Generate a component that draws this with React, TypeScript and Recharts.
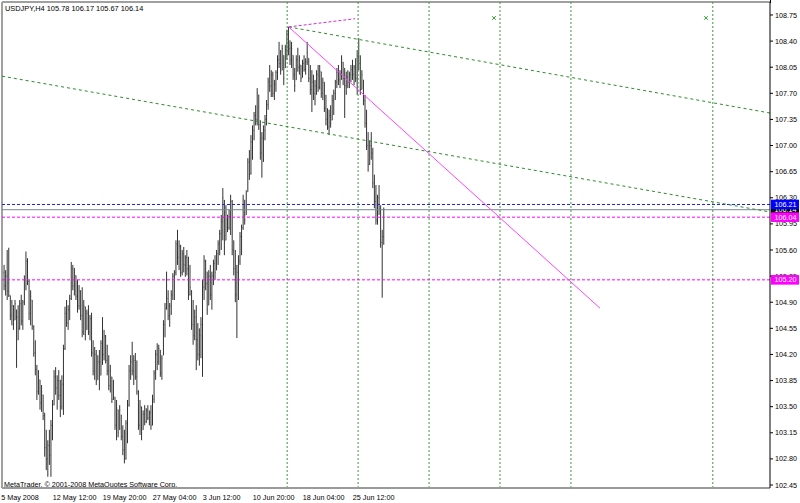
import React from 'react';
import { ComposedChart, Bar, XAxis, YAxis, ReferenceLine, ReferenceDot, Customized } from 'recharts';

const FONT = "'Liberation Sans', Arial, sans-serif";

const highs = [
  105.36,105.40,105.33,105.60,105.63,104.99,104.93,104.86,104.93,104.80,
  104.86,104.93,105.00,104.93,105.26,105.58,105.49,105.20,105.06,104.93,
  104.59,104.39,104.06,103.99,103.86,103.79,103.66,103.42,103.19,103.05,
  103.19,103.32,103.59,103.99,104.03,103.92,103.99,103.86,103.92,104.33,
  104.84,104.93,104.86,105.00,105.44,105.40,105.36,105.26,105.20,105.13,
  105.06,105.10,104.93,104.84,104.80,104.86,104.73,104.76,104.39,104.30,
  104.26,104.19,104.26,104.39,104.70,104.53,104.46,104.33,104.19,104.06,
  103.90,103.86,103.63,103.59,103.46,103.52,103.39,103.25,103.19,103.32,
  103.59,104.06,104.19,104.37,104.19,104.22,104.12,103.72,103.59,103.50,
  103.45,103.52,103.48,103.52,103.45,103.52,103.66,103.99,104.26,104.35,
  104.33,104.26,104.19,104.66,104.89,105.31,105.06,104.89,105.06,105.29,
  105.33,105.73,105.87,105.73,105.67,105.60,105.64,105.53,105.60,105.51,
  105.40,105.06,104.93,104.80,104.86,104.62,104.55,104.70,105.20,105.53,
  105.47,105.31,105.33,105.40,105.31,105.47,105.53,105.60,105.73,105.87,
  106.07,106.43,106.27,106.20,106.07,106.14,106.34,106.27,105.73,105.60,
  105.40,105.53,105.84,105.94,106.34,106.27,106.40,106.83,106.94,107.14,
  107.27,107.45,107.54,107.77,107.68,107.34,107.18,107.27,107.41,107.61,
  107.91,108.08,108.01,107.99,107.88,108.01,108.21,108.39,108.28,108.35,
  108.21,108.35,108.55,108.59,108.41,108.39,108.21,108.04,108.21,108.31,
  108.21,108.08,108.15,108.21,108.17,108.39,108.17,108.08,108.01,107.95,
  107.88,108.01,108.08,108.08,107.99,107.91,107.85,107.68,107.50,107.48,
  107.54,107.68,107.75,107.88,108.04,108.08,108.01,108.21,108.12,108.04,
  107.99,108.01,107.99,108.08,108.15,108.08,108.17,108.28,108.44,108.21,
  108.01,107.88,107.68,107.48,107.18,107.07,107.18,106.97,106.61,106.47,
  106.34,106.47,106.20,105.87,106.17,
];

const lows = [
  105.13,105.06,104.99,104.93,104.97,104.66,104.59,104.53,104.66,104.02,
  104.39,104.53,104.59,104.53,104.86,105.06,105.13,104.66,104.59,104.53,
  104.17,103.92,103.59,103.66,103.46,103.43,103.32,102.83,102.65,102.56,
  102.72,102.56,103.05,103.52,103.66,103.46,103.59,103.36,103.46,103.39,
  104.26,104.57,104.53,104.66,104.93,105.06,104.99,104.93,104.76,104.80,
  104.66,104.43,104.46,104.39,104.53,104.46,104.39,104.17,103.92,103.86,
  103.79,103.86,103.72,103.92,104.06,104.12,104.08,103.92,103.72,103.69,
  103.55,103.59,103.19,103.05,103.09,103.19,103.05,102.85,102.74,102.79,
  103.01,103.50,103.86,103.92,103.79,103.86,103.66,103.19,103.12,103.05,
  103.19,103.25,103.28,103.32,103.25,103.19,103.25,103.55,103.86,103.99,
  104.06,103.90,103.86,104.19,104.43,104.80,104.66,104.57,104.73,104.93,
  104.93,105.26,105.40,105.33,105.24,105.26,105.30,105.24,105.26,104.93,
  104.99,104.53,104.33,104.39,103.99,104.12,104.05,104.15,103.90,104.93,
  105.06,104.73,104.86,104.93,104.80,105.13,105.20,105.33,105.40,105.53,
  105.60,105.73,105.53,105.73,105.84,105.87,105.80,105.53,105.26,104.90,
  104.42,104.93,105.40,105.53,105.87,105.94,106.07,106.38,106.54,106.61,
  106.81,107.07,107.27,107.27,107.21,106.81,106.57,106.78,107.07,107.27,
  107.48,107.72,107.65,107.65,107.61,107.72,107.88,108.04,107.95,108.01,
  107.81,108.04,108.15,108.21,108.08,108.04,107.88,107.72,107.88,107.99,
  107.95,107.85,107.91,107.99,107.95,108.08,107.85,107.68,107.45,107.61,
  107.54,107.68,107.72,107.75,107.64,107.61,107.45,107.27,107.21,107.14,
  107.24,107.34,107.41,107.61,107.77,107.81,107.77,107.88,107.81,107.37,
  107.68,107.77,107.77,107.85,107.88,107.81,107.85,107.68,108.01,107.68,
  107.75,107.54,107.24,106.94,106.65,106.74,106.81,106.43,106.16,105.94,
  105.94,106.07,105.63,104.96,105.67,
];

const opens = [
  105.20,105.30,105.12,105.25,105.05,104.99,104.72,104.85,104.66,104.80,
  104.70,104.55,104.88,104.65,104.90,105.20,105.45,105.18,104.75,104.93,
  104.58,104.22,104.00,103.70,103.86,103.55,103.66,103.38,102.95,102.80,
  102.98,102.85,103.25,103.52,103.90,103.75,103.85,103.65,103.50,103.80,
  104.28,104.75,104.62,104.80,104.95,105.35,105.12,105.26,104.98,104.85,
  105.05,104.72,104.50,104.84,104.53,104.75,104.50,104.68,104.22,103.98,
  104.20,103.86,104.10,103.92,104.35,104.20,104.45,104.12,103.98,103.78,
  103.90,103.60,103.63,103.25,103.46,103.19,103.39,103.10,102.92,102.80,
  103.28,103.52,103.98,104.10,103.98,104.12,103.90,103.70,103.25,103.50,
  103.19,103.40,103.30,103.45,103.35,103.42,103.25,103.60,103.95,104.20,
  104.10,104.26,103.95,104.19,104.60,104.82,104.95,104.72,104.85,105.00,
  105.25,105.30,105.68,105.50,105.65,105.30,105.55,105.40,105.50,105.35,
  105.00,105.06,104.60,104.45,104.70,104.40,104.20,104.45,104.60,105.10,
  105.45,105.15,104.86,105.25,105.00,105.25,105.42,105.33,105.55,105.68,
  105.82,105.98,106.27,105.73,106.07,105.90,106.05,106.25,105.60,105.35,
  105.00,105.30,105.45,105.78,105.90,106.27,106.07,106.38,106.78,106.62,
  107.05,107.20,107.40,107.35,107.68,107.28,106.90,107.10,107.20,107.35,
  107.55,107.85,107.80,107.95,107.70,107.82,107.98,108.15,108.10,108.01,
  108.21,108.04,108.28,108.50,108.30,108.15,108.21,107.95,107.88,108.15,
  108.05,108.08,107.91,108.10,108.02,108.12,108.17,107.90,107.75,107.85,
  107.70,107.80,107.95,107.78,107.99,107.70,107.85,107.50,107.35,107.25,
  107.40,107.34,107.60,107.70,107.85,107.98,107.88,107.95,108.12,107.90,
  107.80,107.92,107.85,107.95,108.02,107.95,108.05,107.90,108.20,108.10,
  107.75,107.88,107.60,107.30,107.00,106.75,107.00,106.90,106.50,106.25,
  106.00,106.30,106.15,105.70,105.78,
];

const closes = [
  105.30,105.12,105.25,105.05,105.00,104.72,104.85,104.60,104.88,104.70,
  104.55,104.88,104.65,104.90,105.20,105.45,105.18,104.75,104.98,104.58,
  104.22,104.00,103.70,103.90,103.55,103.70,103.38,102.95,102.80,102.98,
  102.85,103.25,103.52,103.90,103.75,103.85,103.65,103.50,103.80,104.28,
  104.75,104.62,104.80,104.95,105.35,105.12,105.30,104.98,104.85,105.05,
  104.72,104.50,104.85,104.45,104.75,104.50,104.68,104.22,103.98,104.20,
  103.85,104.10,103.80,104.35,104.20,104.45,104.12,103.98,103.78,103.98,
  103.60,103.80,103.25,103.48,103.15,103.45,103.10,102.92,102.80,103.28,
  103.52,103.98,104.10,103.98,104.12,103.90,103.70,103.25,103.50,103.15,
  103.40,103.30,103.45,103.35,103.42,103.25,103.60,103.95,104.20,104.10,
  104.28,103.95,104.15,104.60,104.82,104.95,104.72,104.85,105.00,105.25,
  105.30,105.68,105.50,105.65,105.30,105.55,105.40,105.50,105.35,105.00,
  105.10,104.60,104.45,104.70,104.40,104.20,104.45,104.60,105.10,105.45,
  105.15,104.80,105.25,105.00,105.25,105.42,105.30,105.55,105.68,105.82,
  105.98,106.30,105.70,106.10,105.90,106.05,106.25,105.60,105.35,105.00,
  105.30,105.45,105.78,105.90,106.28,106.00,106.35,106.78,106.62,107.05,
  107.20,107.40,107.35,107.70,107.28,106.90,107.10,107.20,107.35,107.55,
  107.85,107.80,107.95,107.70,107.82,107.98,108.15,108.10,108.00,108.30,
  107.90,108.28,108.50,108.30,108.15,108.30,107.95,107.80,108.15,108.05,
  108.18,107.90,108.10,108.02,108.12,108.25,107.90,107.75,107.85,107.70,
  107.80,107.95,107.78,108.00,107.70,107.85,107.50,107.35,107.25,107.40,
  107.30,107.60,107.70,107.85,107.98,107.88,107.95,108.15,107.90,107.80,
  107.92,107.85,107.95,108.02,107.95,108.05,107.90,108.20,108.10,107.75,
  107.95,107.60,107.30,107.00,106.75,107.00,106.90,106.50,106.25,106.00,
  106.30,106.15,105.70,105.78,106.14,
];

const dateTickIdx = [0, 33, 65, 97, 129, 161, 193, 225];
const dateTickLabels = ['5 May 2008', '12 May 12:00', '19 May 20:00', '27 May 04:00', '3 Jun 12:00', '10 Jun 20:00', '18 Jun 04:00', '25 Jun 12:00'];
const priceTicks = [102.45, 102.80, 103.15, 103.50, 103.85, 104.20, 104.55, 104.90, 105.25, 105.60, 105.95, 106.30, 106.65, 107.00, 107.35, 107.70, 108.05, 108.40, 108.75];
const tagValues = [105.20, 106.14, 106.21, 106.04];
const tagColors = ['#ff00ff', '#000000', '#0000ff', '#ff00ff'];
const cycleLines = [182, 227.4, 272.8, 318.2, 363.6, 454.4];
const crossMarks = [314.4, 450.0];
const crossPrice = 108.71;

const symbolTitle = 'USDJPY,H4  105.78 106.17 105.67 106.14';
const copyright = 'MetaTrader, \u00a9 2001-2008 MetaQuotes Software Corp.';

const X_DOMAIN: [number, number] = [-0.5, 491];
const Y_DOMAIN: [number, number] = [102.41, 108.924];

const data = highs.map((h, i) => ({
  i,
  high: h,
  low: lows[i],
  open: opens[i],
  close: closes[i],
  range: [lows[i], h],
}));

function OhlcShape(props: any) {
  const { x, y, width, height, payload } = props;
  if (x == null || y == null || !payload) return <g />;
  const cx = x + (width || 0) / 2;
  const top = Math.min(y, y + height);
  const h = Math.abs(height);
  const span = payload.high - payload.low || 1;
  const yO = top + ((payload.high - payload.open) / span) * h;
  const yC = top + ((payload.high - payload.close) / span) * h;
  const col = '#333';
  return (
    <g>
      <line x1={cx} x2={cx} y1={top} y2={top + Math.max(h, 1)} stroke={col} strokeWidth={1} />
      <line x1={cx - 0.6} x2={cx} y1={yO} y2={yO} stroke={col} strokeWidth={0.6} />
      <line x1={cx} x2={cx + 0.6} y1={yC} y2={yC} stroke={col} strokeWidth={0.6} />
    </g>
  );
}

function PriceTick(props: any) {
  const { y, payload } = props;
  return (
    <g>
      <line x1={770} x2={773} y1={y} y2={y} stroke="#000" strokeWidth={1} />
      <text x={775} y={y} dy="0.35em" fontSize={7.2} fontFamily={FONT} fill="#000">
        {Number(payload.value).toFixed(2)}
      </text>
    </g>
  );
}

function TagTick(props: any) {
  const { y, payload } = props;
  const k = tagValues.indexOf(payload.value);
  const bg = k >= 0 ? tagColors[k] : '#000';
  return (
    <g>
      <rect x={771} y={y - 4.8} width={28} height={9.6} fill={bg} />
      <text x={774.5} y={y} dy="0.35em" fontSize={7.2} fontFamily={FONT} fill="#fff">
        {Number(payload.value).toFixed(2)}
      </text>
    </g>
  );
}

function DateTick(props: any) {
  const { x, payload } = props;
  const k = dateTickIdx.indexOf(payload.value);
  return (
    <text x={x - 1.5} y={499.5} fontSize={7.2} fontFamily={FONT} fill="#000">
      {k >= 0 ? dateTickLabels[k] : ''}
    </text>
  );
}

function Cross(props: any) {
  const { cx, cy } = props;
  if (cx == null) return <g />;
  return (
    <g stroke="#33a033" strokeWidth={1}>
      <line x1={cx - 1.8} x2={cx + 1.8} y1={cy - 1.8} y2={cy + 1.8} />
      <line x1={cx - 1.8} x2={cx + 1.8} y1={cy + 1.8} y2={cy - 1.8} />
    </g>
  );
}

function Overlay() {
  return (
    <g>
      <text x={5} y={10.5} fontSize={7.4} fontFamily={FONT} fill="#000">{symbolTitle}</text>
      <text x={4} y={486.5} fontSize={7.2} fontFamily={FONT} fill="#000">{copyright}</text>
      <line x1={770.5} x2={770.5} y1={0} y2={3} stroke="#000" strokeWidth={1} />
    </g>
  );
}

export default function App() {
  return (
    <div style={{ position: 'absolute', left: 0, top: 0, width: 800, height: 503, background: '#fff' }}>
      <ComposedChart width={800} height={503} data={data} margin={{ top: 2, right: 0, bottom: 0, left: 2 }}>
        <XAxis
          dataKey="i"
          type="number"
          domain={X_DOMAIN}
          allowDataOverflow
          ticks={dateTickIdx}
          interval={0}
          tick={<DateTick />}
          tickLine={false}
          axisLine={{ stroke: '#9a9a9a', strokeWidth: 2 }}
          height={15}
        />
        <YAxis
          orientation="right"
          type="number"
          domain={Y_DOMAIN}
          allowDataOverflow
          ticks={priceTicks}
          interval={0}
          tick={<PriceTick />}
          tickLine={false}
          axisLine={{ stroke: '#000', strokeWidth: 1 }}
          width={29}
        />
        <YAxis
          yAxisId="tags"
          orientation="right"
          type="number"
          domain={Y_DOMAIN}
          allowDataOverflow
          ticks={tagValues}
          interval={0}
          tick={<TagTick />}
          tickLine={false}
          axisLine={false}
          width={1}
        />
        <ReferenceLine x={X_DOMAIN[0]} stroke="#a0a0a0" strokeWidth={2} />
        <ReferenceLine y={Y_DOMAIN[1]} stroke="#a0a0a0" strokeWidth={2} />
        {cycleLines.map((v) => (
          <ReferenceLine key={'c' + v} x={v} stroke="#3c9c3c" strokeWidth={1} strokeDasharray="2 2" />
        ))}
        <ReferenceLine y={105.20} stroke="#ff00ff" strokeDasharray="3 2" />
        <ReferenceLine y={106.14} stroke="#778899" strokeWidth={1} />
        <ReferenceLine y={106.21} stroke="#2020e0" strokeDasharray="3 2" />
        <ReferenceLine y={106.04} stroke="#ff00ff" strokeDasharray="3 2" />
        <ReferenceLine segment={[{ x: -0.5, y: 107.93 }, { x: 491, y: 106.11 }]} stroke="#2e8b2e" strokeDasharray="3 3" />
        <ReferenceLine segment={[{ x: 183, y: 108.59 }, { x: 491, y: 107.436 }]} stroke="#2e8b2e" strokeDasharray="3 3" />
        <ReferenceLine segment={[{ x: 183, y: 108.59 }, { x: 225.4, y: 108.70 }]} stroke="#cc33cc" strokeDasharray="3 2" />
        <ReferenceLine segment={[{ x: 183, y: 108.59 }, { x: 382.2, y: 104.82 }]} stroke="#ff44ff" strokeWidth={1} />
        {crossMarks.map((v) => (
          <ReferenceDot key={'x' + v} x={v} y={crossPrice} r={2} shape={<Cross />} />
        ))}
        <Bar dataKey="range" barSize={1} isAnimationActive={false} shape={<OhlcShape />} />
        <Customized component={<Overlay />} />
      </ComposedChart>
    </div>
  );
}
